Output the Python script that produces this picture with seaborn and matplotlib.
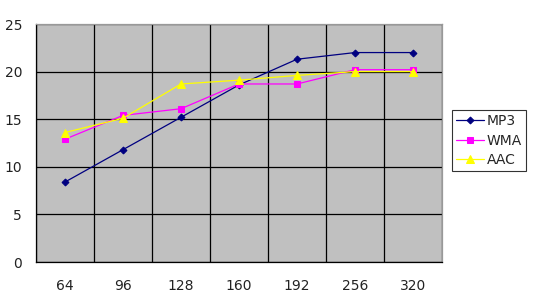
import matplotlib
matplotlib.use("Agg")
import matplotlib.pyplot as plt
import seaborn as sns
import numpy as np
import pandas as pd

categories = ["64", "96", "128", "160", "192", "256", "320"]
mp3 = [8.4, 11.8, 15.2, 18.6, 21.3, 22.0, 22.0]
wma = [12.9, 15.4, 16.1, 18.7, 18.7, 20.2, 20.2]
aac = [13.6, 15.1, 18.7, 19.1, 19.6, 20.0, 20.0]
series_names = ["MP3", "WMA", "AAC"]
y_ticks = [0, 5, 10, 15, 20, 25]

sns.set_style("white")
plt.rcParams['font.family'] = ['DejaVu Sans']

fig = plt.figure(figsize=(5.39, 2.95), dpi=100)
ax = fig.add_axes([36/539, 1 - 262/295, (442-36)/539, (262-24)/295])
ax.set_facecolor("#C0C0C0")

pos = np.arange(len(categories))
styles = {
    "MP3": dict(color="#000080", marker="D", ms=3.5),
    "WMA": dict(color="#FF00FF", marker="s", ms=5),
    "AAC": dict(color="#FFFF00", marker="^", ms=5.5),
}
for name, vals in zip(series_names, [mp3, wma, aac]):
    st = styles[name]
    sns.lineplot(x=pos, y=vals, ax=ax, color=st["color"], marker=st["marker"],
                 markersize=st["ms"], markerfacecolor=st["color"], markeredgecolor=st["color"],
                 linewidth=0.9, label=name, zorder=3)

ax.set_xlim(-0.5, len(categories) - 0.5)
ax.set_ylim(0, 25)
ax.set_xticks(pos)
ax.set_xticklabels(categories)
ax.set_xticks(np.arange(-0.5, len(categories), 1.0), minor=True)
ax.set_yticks(y_ticks)
ax.grid(True, which="minor", axis="x", color="black", linewidth=0.9)
ax.grid(True, which="major", axis="y", color="black", linewidth=0.9)
ax.set_axisbelow(True)
ax.tick_params(axis="both", which="both", length=0, labelsize=10, colors="#222222")
ax.tick_params(axis="x", pad=12)
ax.tick_params(axis="y", pad=10)
for s in ["top", "right"]:
    ax.spines[s].set_color("#999999")
    ax.spines[s].set_linewidth(0.9)
for s in ["left", "bottom"]:
    ax.spines[s].set_color("black")
    ax.spines[s].set_linewidth(0.9)

leg = ax.legend(loc="upper left", bbox_to_anchor=(452/539, 1 - 110/295),
                bbox_transform=fig.transFigure, frameon=True, fancybox=False,
                edgecolor="black", fontsize=10, handlelength=2.0,
                borderpad=0.3, labelspacing=0.4, handletextpad=0.2, borderaxespad=0)
leg.get_frame().set_linewidth(0.8)

fig.savefig("out.png", dpi=100, facecolor="white")
